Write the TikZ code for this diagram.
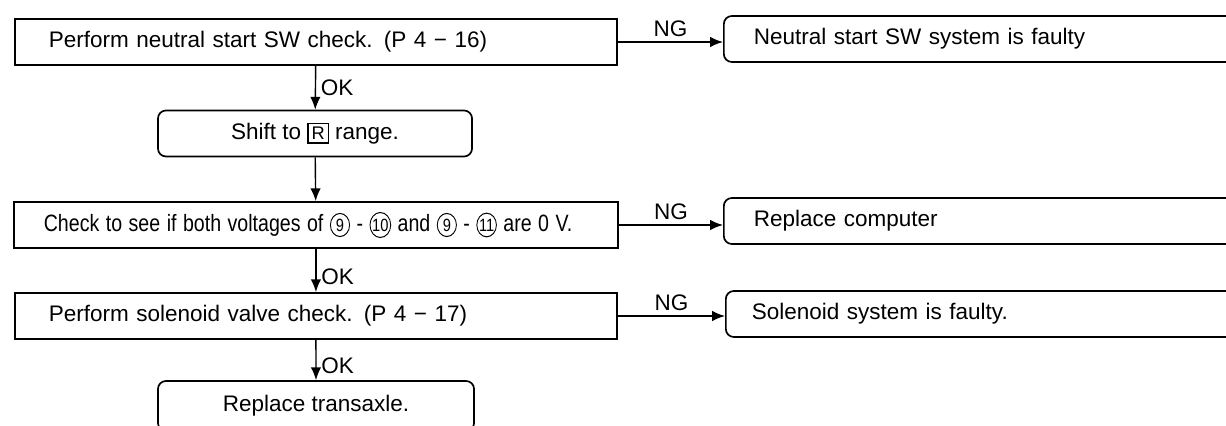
\documentclass[tikz,border=0pt]{standalone}
\usepackage{fontspec}
\setmainfont{Liberation Sans}
\usetikzlibrary{arrows.meta}
\tikzset{
  stepbox/.style={draw, rectangle, line width=1.2pt, anchor=west, minimum height=1.15cm,
    inner xsep=0.85cm, text width=13.35cm, align=left},
  endbox/.style={draw, rounded corners=0.2cm, line width=1.2pt, minimum height=1.15cm},
  faultbox/.style={endbox, anchor=west, inner xsep=0.75cm, text width=11.5cm, align=left},
  flow/.style={-{Latex[length=0.32cm,width=0.26cm]}, line width=1pt},
}
\newcommand{\circnum}[1]{\tikz[baseline=(n.base)]\node[draw, circle, sharp corners, line width=0.7pt,
  text width={}, inner sep=0.4pt, minimum size=0.55cm, font=\fontsize{12}{13}\selectfont](n){#1};}
\begin{document}
\begin{tikzpicture}[x=0.025cm, y=-0.025cm, font=\fontsize{16}{19}\selectfont]
\useasboundingbox (0,0) rectangle (1226,426);
% left column
\node[stepbox] (swchk) at (14,42) {Perform neutral start SW check. (P 4 − 16)};
\node[endbox, minimum width=7.85cm] (shift) at (315,133.5)
  {Shift to {\setlength{\fboxsep}{2pt}\setlength{\fboxrule}{0.9pt}\fbox{\fontsize{13}{14}\selectfont R}} range.};
\node[stepbox, inner xsep=0.75cm, text width=13.6cm] (vchk) at (13,225)
  {\scalebox{0.87}[1.05]{Check to see if both voltages of \circnum{9} - \circnum{10} and \circnum{9} - \circnum{11} are 0 V.}};
\node[stepbox] (solchk) at (14,316) {Perform solenoid valve check. (P 4 − 17)};
\node[endbox, minimum width=7.9cm, minimum height=1.25cm] (trans) at (316,406) {Replace transaxle.};
% right column
\node[faultbox] (swbad) at (723,39) {Neutral start SW system is faulty};
\node[faultbox] (ecu) at (723,221) {Replace computer};
\node[faultbox, inner xsep=0.65cm] (solbad) at (725,314) {Solenoid system is faulty.};
% OK branches
\draw[flow] (swchk) -- node[right]{OK} (shift);
\draw[flow] (shift) -- (vchk);
\draw[flow] (vchk) -- node[right, pos=0.65]{OK} (solchk);
\draw[flow] (solchk) -- node[right, pos=0.65]{OK} (trans);
% NG branches
\draw[flow] (swchk.east) -- node[above]{NG} (swchk.east -| swbad.west);
\draw[flow] (vchk.east) -- node[above]{NG} (vchk.east -| ecu.west);
\draw[flow] (solchk.east) -- node[above]{NG} (solchk.east -| solbad.west);
\end{tikzpicture}
\end{document}
